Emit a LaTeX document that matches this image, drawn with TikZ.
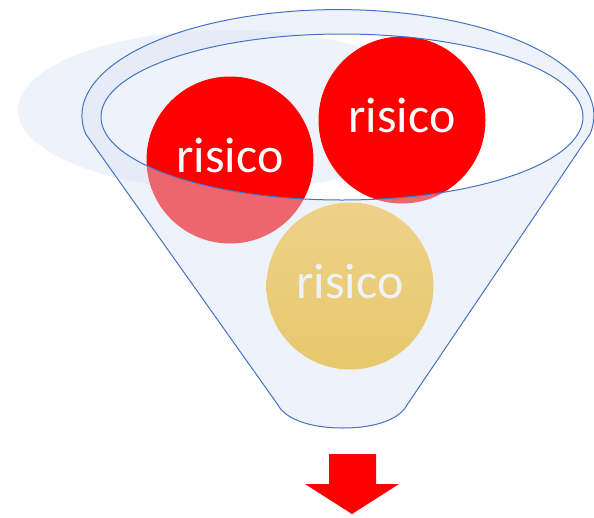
\documentclass[tikz,border=0pt]{standalone}
\usepackage{fontspec}
\setmainfont{Carlito}
\definecolor{funnelblue}{RGB}{68,114,196}
\definecolor{paleblue}{RGB}{218,227,243}
\definecolor{riskred}{RGB}{255,0,0}
\definecolor{goldtop}{RGB}{255,196,48}
\definecolor{goldbot}{RGB}{242,178,0}
\tikzset{
  risk/.style={circle, inner sep=0pt, minimum size=167pt, text=white, text depth=9pt, font=\fontsize{50}{60}\selectfont},
  glass/.style={fill=paleblue, fill opacity=0.45},
  rim/.style={draw=funnelblue, line width=1pt},
}
\begin{document}
\begin{tikzpicture}[x=1pt,y=-1pt]
\useasboundingbox (0,0) rectangle (594,517);
% shadow behind the mouth
\fill[glass] (230,110) ellipse [x radius=212, y radius=80];
% the three risks
\node[risk, fill=riskred] (risk1) at (230,160) {risico};
\node[risk, fill=riskred] (risk2) at (402,120) {risico};
\node[risk, top color=goldtop, bottom color=goldbot] (risk3) at (350,286) {risico};
% funnel body with open mouth
\path[glass, rim, even odd rule] (590,134) arc[start angle=10, end angle=-190, x radius=256, y radius=106]
  -- (278,405) .. controls (286,420) and (312,428) .. (343,428)
  .. controls (374,428) and (399,420) .. (407,405) -- cycle
  (342,117) ellipse [x radius=241, y radius=83];
% output arrow
\fill[riskred] (329,454) -- (376,454) -- (376,484) -- (399,484) -- (352,514) -- (305,484) -- (329,484) -- cycle;
\end{tikzpicture}
\end{document}
